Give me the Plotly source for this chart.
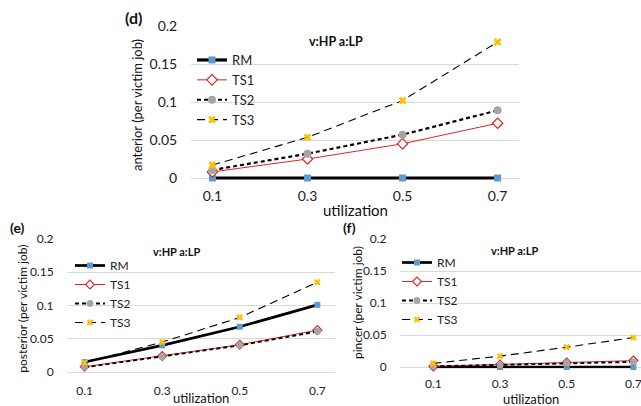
import plotly.graph_objects as go

W, H = 641, 406
FONT = "Lato"

utilization = ["0.1", "0.3", "0.5", "0.7"]
series_names = ["RM", "TS1", "TS2", "TS3"]

anterior_RM = [0, 0, 0, 0]
anterior_TS1 = [0.008, 0.025, 0.045, 0.072]
anterior_TS2 = [0.0105, 0.032, 0.057, 0.089]
anterior_TS3 = [0.017, 0.0535, 0.102, 0.179]

posterior_RM = [0.015, 0.040, 0.068, 0.101]
posterior_TS1 = [0.008, 0.024, 0.041, 0.063]
posterior_TS2 = [0.007, 0.023, 0.040, 0.061]
posterior_TS3 = [0.014, 0.045, 0.082, 0.135]

pincer_RM = [0, 0, 0, 0]
pincer_TS1 = [0.001, 0.004, 0.007, 0.010]
pincer_TS2 = [0.001, 0.003, 0.006, 0.008]
pincer_TS3 = [0.0057, 0.017, 0.031, 0.046]

y_tickvals = [0, 0.05, 0.1, 0.15, 0.2]
y_ticktext = ["0", "0.05", "0.1", "0.15", "0.2"]
Y_MIN, Y_MAX = -0.0025, 0.2

panels = [
    dict(data=[anterior_RM, anterior_TS1, anterior_TS2, anterior_TS3], ax="", leg="legend", scale=1.0),
    dict(data=[posterior_RM, posterior_TS1, posterior_TS2, posterior_TS3], ax="2", leg="legend2", scale=0.85),
    dict(data=[pincer_RM, pincer_TS1, pincer_TS2, pincer_TS3], ax="3", leg="legend3", scale=0.85),
]

def styles(s):
    return [
        dict(line=dict(color="black", width=3.2 * s), marker=dict(symbol="square", size=7 * s, color="#5B9BD5")),
        dict(line=dict(color="#D9262B", width=1), marker=dict(symbol="diamond", size=8 * s, color="white",
                                                              line=dict(color="#D9262B", width=1.2))),
        dict(line=dict(color="black", width=2.2 * s, dash="4px,3px"), marker=dict(symbol="circle", size=8 * s, color="#A5A5A5")),
        dict(line=dict(color="black", width=1.1, dash="8px,5px"), marker=dict(symbol="x", size=7 * s, color="#FFC000")),
    ]

fig = go.Figure()
for p in panels:
    st = styles(p["scale"])
    for name, vals, s in zip(series_names, p["data"], st):
        fig.add_trace(go.Scatter(
            x=utilization, y=vals, name=name, mode="lines+markers",
            line=s["line"], marker=s["marker"], cliponaxis=False,
            xaxis="x" + p["ax"], yaxis="y" + p["ax"], legend=p["leg"],
        ))

def px_x(v):
    return v / W

def px_y(v):
    return 1 - v / H

def xax(dom, fs, anchor, tl, rng=None):
    d = dict(domain=dom, type="category", showgrid=False, zeroline=False, showline=False,
             ticks="outside", ticklen=tl, tickcolor="rgba(0,0,0,0)", automargin=False, anchor=anchor,
             tickfont=dict(family=FONT, size=fs, color="#222"), fixedrange=True)
    if rng:
        d["range"] = rng
    return d

def yax(zero_px, top_px, fs, anchor):
    scale = (zero_px - top_px) / Y_MAX
    bottom_px = zero_px + (-Y_MIN) * scale
    return dict(domain=[px_y(bottom_px), px_y(top_px)], range=[Y_MIN, Y_MAX],
                tickvals=y_tickvals, ticktext=y_ticktext,
                showgrid=True, gridcolor="#D9D9D9", gridwidth=1, zeroline=False, showline=False,
                ticks="outside", ticklen=10, tickcolor="rgba(0,0,0,0)", anchor=anchor, automargin=False,
                tickfont=dict(family=FONT, size=fs, color="#222"))

layout = dict(
    width=W, height=H, margin=dict(l=0, r=0, t=0, b=0, pad=0, autoexpand=False),
    paper_bgcolor="white", plot_bgcolor="white",
    font=dict(family=FONT, color="#222"),
    showlegend=True,
    xaxis=xax([px_x(191), px_x(519)], 14, "y", 3),
    yaxis=yax(178, 26, 14, "x"),
    xaxis2=xax([px_x(67), px_x(335)], 12, "y2", 6),
    yaxis2=yax(372, 239, 12, "x2"),
    xaxis3=xax([px_x(400), 1.0], 12, "y3", 4, rng=[-0.5, 3.114]),
    yaxis3=yax(367, 239, 12, "x3"),
)

def leg(x, y, fs):
    return dict(x=px_x(x), y=px_y(y), xanchor="left", yanchor="top", bgcolor="rgba(0,0,0,0)",
                font=dict(family=FONT, size=fs, color="#222"), tracegroupgap=0, itemclick=False)

layout["legend"] = leg(192, 45, 13)
layout["legend2"] = leg(70, 251, 12)
layout["legend3"] = leg(397, 248, 12)

fig.update_layout(**layout)

ann = []
def text(x, y, t, fs, bold=False, angle=0):
    ann.append(dict(x=px_x(x), y=px_y(y), xref="paper", yref="paper", text=("<b>%s</b>" % t) if bold else t,
                    showarrow=False, textangle=angle, xanchor="center", yanchor="middle",
                    font=dict(family=FONT, size=fs, color="#111")))

text(133, 17.5, "(d)", 16, bold=True)
text(17.5, 227.5, "(e)", 14, bold=True)
text(349, 227.5, "(f)", 14, bold=True)
text(336, 42, "v:HP a:LP", 12.5, bold=True)
text(176, 251, "v:HP a:LP", 11, bold=True)
text(514, 250, "v:HP a:LP", 11, bold=True)
text(137, 105, "anterior (per victim job)", 13, angle=-90)
text(21.7, 309, "posterior (per victim job)", 12, angle=-90)
text(357.5, 302.5, "pincer (per victim job)", 12, angle=-90)
text(355, 210, "utilization", 15)
text(201, 398, "utilization", 13)
text(531, 399, "utilization", 13)
fig.update_layout(annotations=ann)

fig.write_html("out.html", config={"displayModeBar": False},
               post_script="document.body.style.margin='0px';document.body.style.overflow='hidden';")
